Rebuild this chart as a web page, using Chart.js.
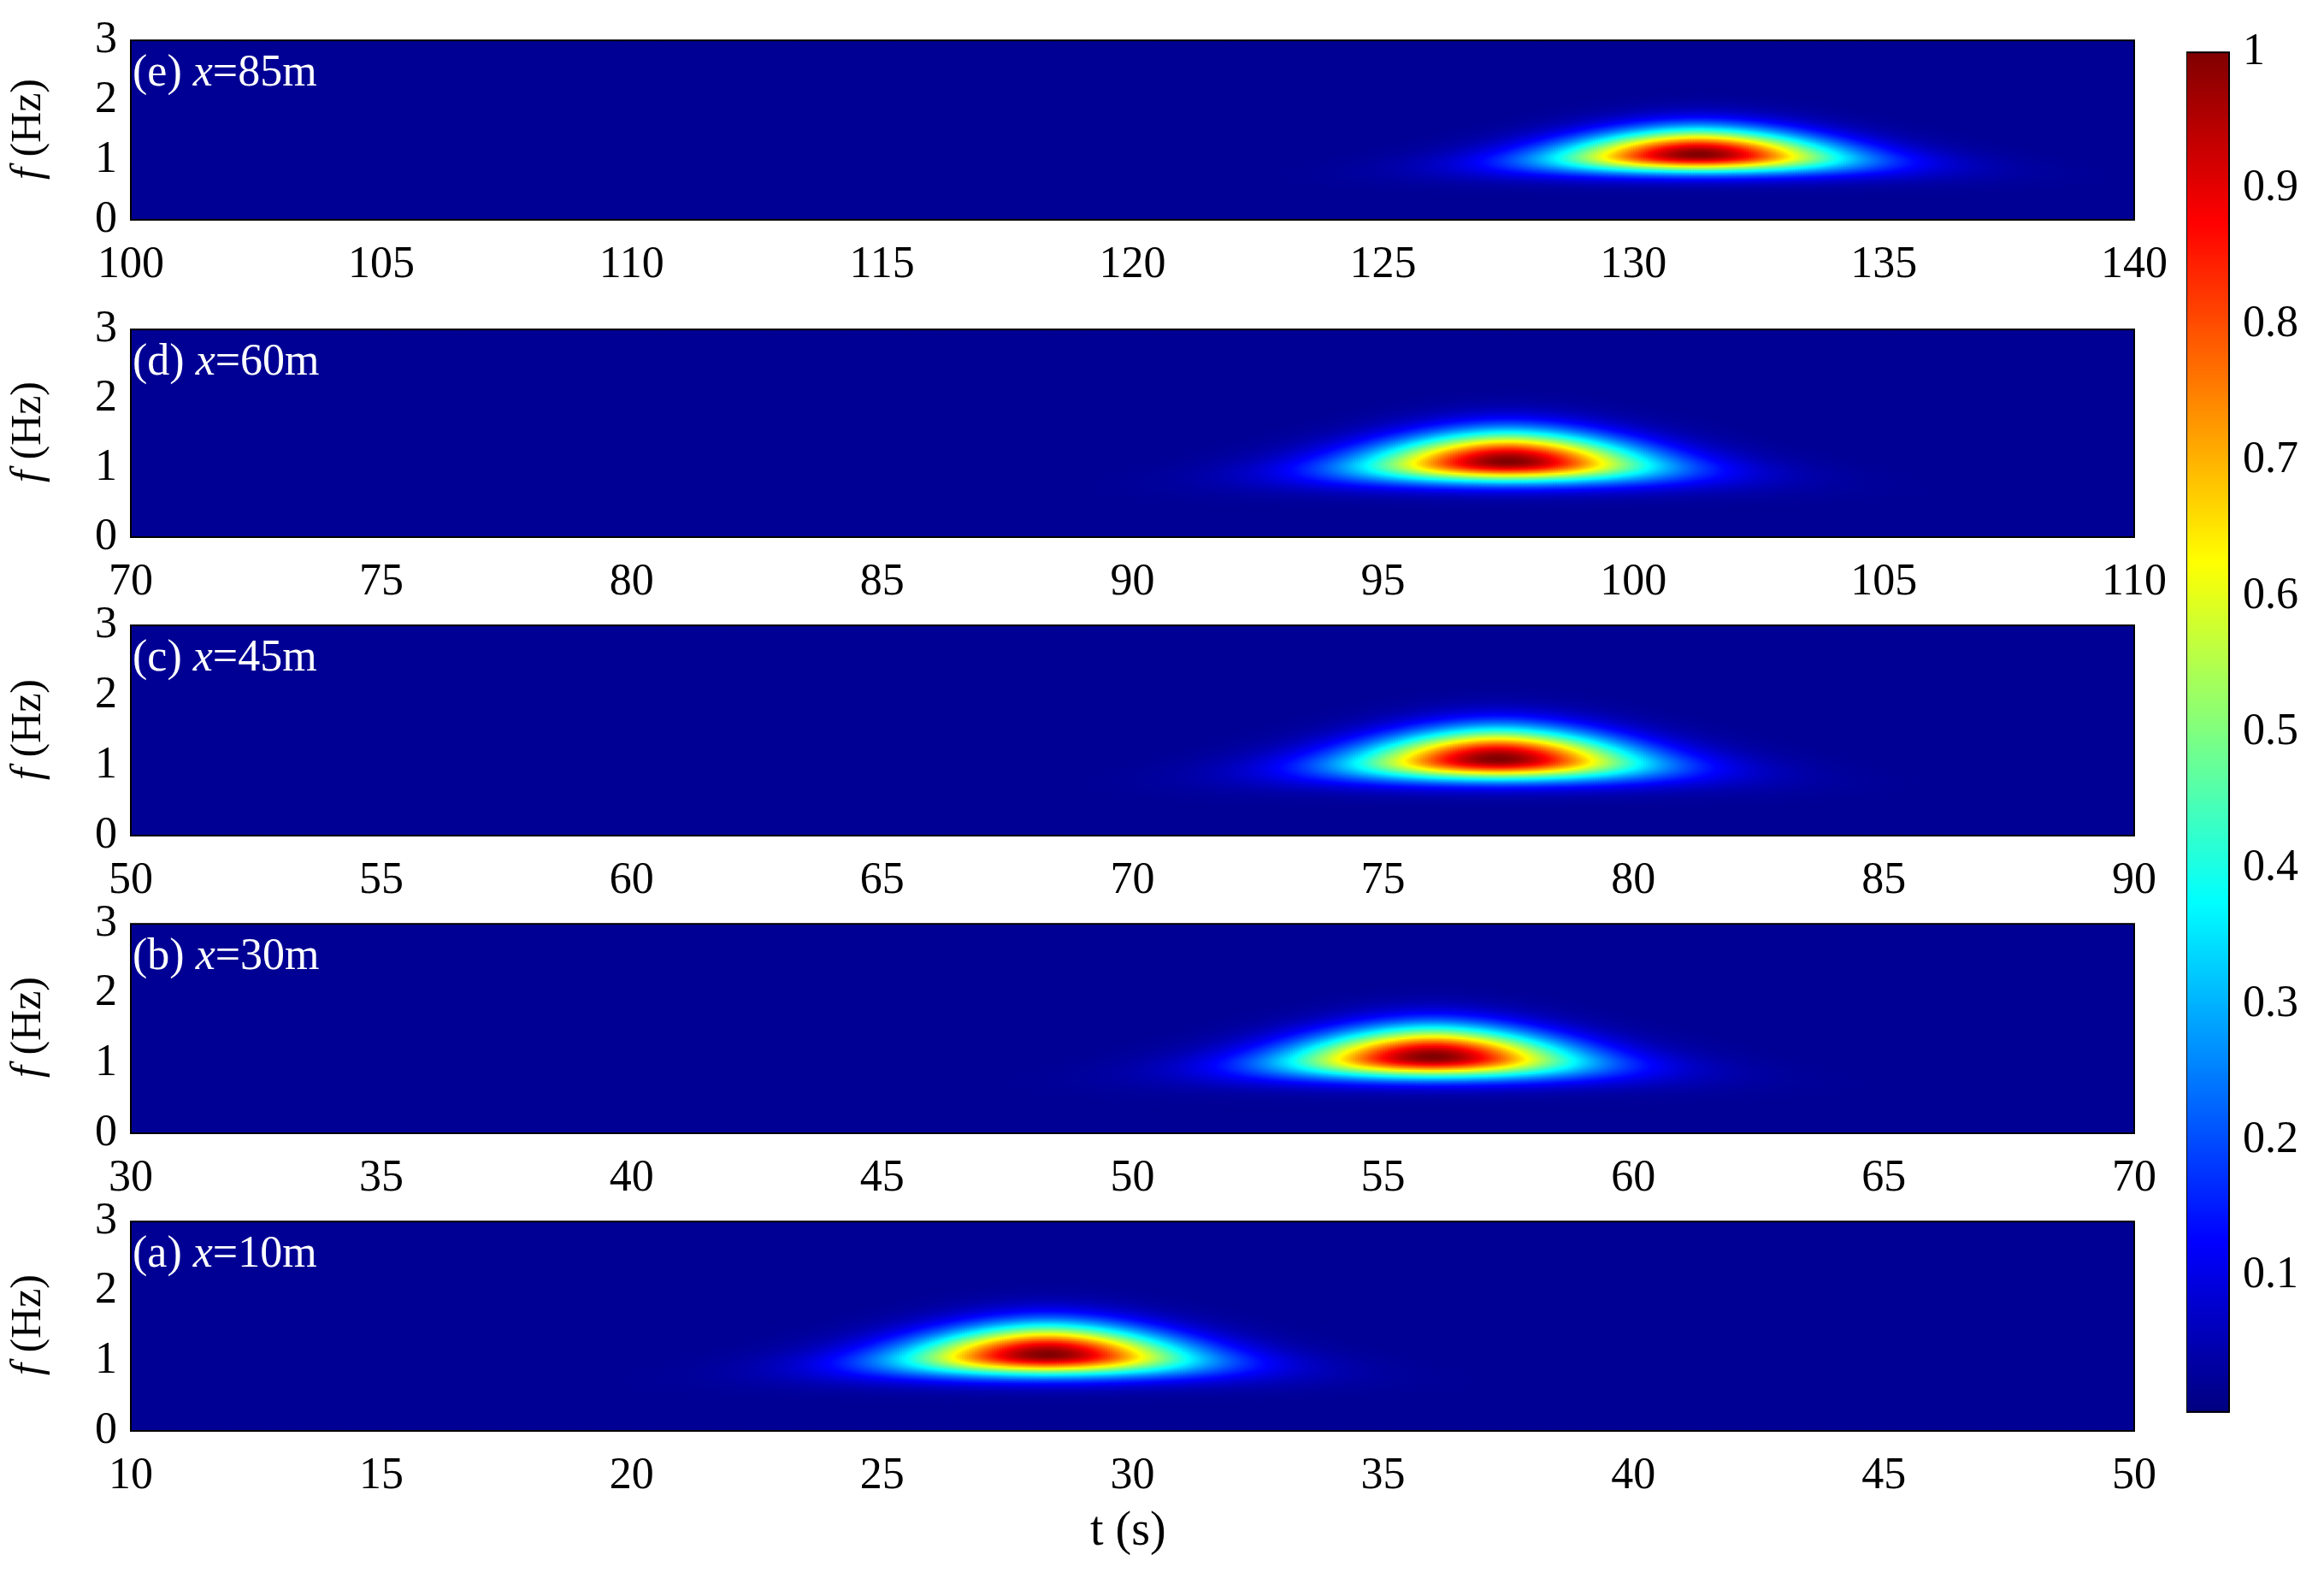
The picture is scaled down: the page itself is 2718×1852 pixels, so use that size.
<!DOCTYPE html>
<html><head><meta charset="utf-8">
<script src="https://cdn.jsdelivr.net/npm/chart.js@4"></script>
<style>
body{margin:0;background:#fff;width:2718px;height:1852px;position:relative;overflow:hidden;font-family:"Liberation Serif",serif}
canvas{position:absolute}
.lab{position:absolute;color:#fff;font-size:52px;font-family:"Liberation Serif",serif;line-height:1}
.yl{position:absolute;font-size:50px;transform:rotate(-90deg);transform-origin:center;white-space:nowrap}
</style></head><body>
<script>
// ---- data ----
const panelNames = ["(e)","(d)","(c)","(b)","(a)"];
const positions = [85,60,45,30,10];
const tStart = [100,70,50,30,10];
const tEnd = [140,110,90,70,50];
const peakTime = [131.3,97.5,77.3,56.0,28.3];
const peakFreq = [1.1,1.1,1.1,1.1,1.1];
const peakAmp = [1,1,1,1,1];
const timeSpread = [1.9,1.9,1.9,1.9,1.9];   // s at peak frequency
const freqSpreadLow = [0.2,0.2,0.2,0.2,0.2];
const freqSpreadHigh = [0.3,0.3,0.3,0.3,0.3];
const freqTicks = [0,1,2,3];
const colorbarTicks = [0.1,0.2,0.3,0.4,0.5,0.6,0.7,0.8,0.9,1];

// layout (px)
const plotL=153, plotR=2496;
const tops=[47,385,731,1080,1428], bots=[256,627,976,1324,1672];
const yW=70, xH=90;

function jet(v){
  v=Math.max(0,Math.min(1,v));
  const r=Math.max(0,Math.min(1,1.5-Math.abs(4*v-3)));
  const g=Math.max(0,Math.min(1,1.5-Math.abs(4*v-2)));
  const b=Math.max(0,Math.min(1,1.5-Math.abs(4*v-1)));
  return `rgb(${Math.round(r*255)},${Math.round(g*255)},${Math.round(b*255)})`;
}
function intensity(i,t,f){
  const fc=peakFreq[i];
  const sf=f<fc?freqSpreadLow[i]:freqSpreadHigh[i];
  const st=timeSpread[i]*Math.pow(fc/Math.max(f,0.3),0.8);
  const u=Math.abs(t-peakTime[i])/st;
  return peakAmp[i]*Math.exp(-((f-fc)**2)/(2*sf*sf))*Math.exp(-Math.pow(u,1.9)/2);
}
const heat={id:'heat',beforeDatasetsDraw(c){
  const i=c.options.plugins.heat.idx;const x=c.scales.x,y=c.scales.y,ctx=c.ctx,a=c.chartArea;
  ctx.save();
  const dt=0.05,df=0.02;
  for(let t=tStart[i];t<tEnd[i]-1e-9;t+=dt){
    const x0=x.getPixelForValue(t),x1=x.getPixelForValue(t+dt);
    for(let f=0;f<3-1e-9;f+=df){
      const y0=y.getPixelForValue(f+df),y1=y.getPixelForValue(f);
      ctx.fillStyle=jet(0.02+0.98*intensity(i,t+dt/2,f+df/2));
      ctx.fillRect(x0,y0,x1-x0+1,y1-y0+1);
    }
  }
  ctx.strokeStyle='#000';ctx.lineWidth=2;ctx.strokeRect(a.left,a.top,a.right-a.left,a.bottom-a.top);
  ctx.restore();
}};
const font={family:'"Liberation Serif", serif',size:52};
function align(ch,cv,L,T){
  const a=ch.chartArea;
  cv.style.left=(L-a.left)+'px';cv.style.top=(T-a.top)+'px';
}
for(let i=0;i<5;i++){
  const cv=document.createElement('canvas');
  const w=plotR-plotL+yW+70,h=bots[i]-tops[i]+xH+40;
  cv.width=w;cv.height=h;cv.style.width=w+'px';cv.style.height=h+'px';
  document.body.appendChild(cv);
  const xt=[];for(let t=tStart[i];t<=tEnd[i];t+=5)xt.push(t);
  const ch=new Chart(cv,{type:'scatter',data:{datasets:[{data:[]}]},plugins:[heat],
    options:{responsive:false,animation:false,devicePixelRatio:1,
      layout:{padding:{top:10,right:70,left:0,bottom:0}},
      plugins:{legend:{display:false},tooltip:{enabled:false},heat:{idx:i}},
      scales:{
        x:{type:'linear',min:tStart[i],max:tEnd[i],afterFit:s=>{s.height=xH},
           afterBuildTicks:s=>{s.ticks=xt.map(v=>({value:v}))},
           grid:{display:false},border:{display:false},
           ticks:{color:'#000',font,maxRotation:0,padding:14,autoSkip:false}},
        y:{type:'linear',min:0,max:3,afterFit:s=>{s.width=yW},
           afterBuildTicks:s=>{s.ticks=freqTicks.map(v=>({value:v}))},
           grid:{display:false},border:{display:false},
           ticks:{color:'#000',font,padding:8}}
      }}});
  align(ch,cv,plotL,tops[i]);
  const lab=document.createElement('div');lab.className='lab';
  lab.innerHTML=panelNames[i]+' <i>x</i>='+positions[i]+'m';
  lab.style.left=(plotL+2)+'px';lab.style.top=(tops[i]+10)+'px';
  document.body.appendChild(lab);
  const yl=document.createElement('div');yl.className='yl';
  yl.innerHTML='<i>f</i> (Hz)';
  const mid=(tops[i]+bots[i])/2;
  yl.style.left=(30-90)+'px';yl.style.top=(mid-30)+'px';yl.style.width='180px';yl.style.textAlign='center';
  document.body.appendChild(yl);
}
const tl=document.createElement('div');tl.style.cssText='position:absolute;font-size:56px;left:1275px;top:1755px';
tl.textContent='t (s)';document.body.appendChild(tl);

// colorbar
const cb=document.createElement('canvas');
const cbH=1680-12;
cb.width=220;cb.height=cbH;cb.style.width='220px';cb.style.height=cbH+'px';
document.body.appendChild(cb);
const cbPlug={id:'cb',beforeDatasetsDraw(c){
  const y=c.scales.y,a=c.chartArea,ctx=c.ctx;
  for(let v=0;v<1;v+=0.002){
    ctx.fillStyle=jet(v);const y0=y.getPixelForValue(v+0.002),y1=y.getPixelForValue(v);
    ctx.fillRect(a.left,y0,a.right-a.left,y1-y0+1);
  }
  ctx.strokeStyle='#000';ctx.lineWidth=2;ctx.strokeRect(a.left,a.top,a.right-a.left,a.bottom-a.top);
}};
const cbc=new Chart(cb,{type:'scatter',data:{datasets:[{data:[]}]},plugins:[cbPlug],
  options:{responsive:false,animation:false,devicePixelRatio:1,
    layout:{padding:{top:30,bottom:30,left:0,right:0}},
    plugins:{legend:{display:false},tooltip:{enabled:false}},
    scales:{
      x:{display:false,min:0,max:1},
      y:{position:'right',min:0,max:1,afterFit:s=>{s.width=220-50},
        afterBuildTicks:s=>{s.ticks=colorbarTicks.map(v=>({value:v}))},
        grid:{display:false},border:{display:false},
        ticks:{color:'#000',font,padding:8,callback:v=>String(v)}}
    }}});
(function(){const a=cbc.chartArea;
 cb.style.left=(2557-a.left)+'px';cb.style.top=(61-a.top)+'px';})();
</script>
</body></html>
